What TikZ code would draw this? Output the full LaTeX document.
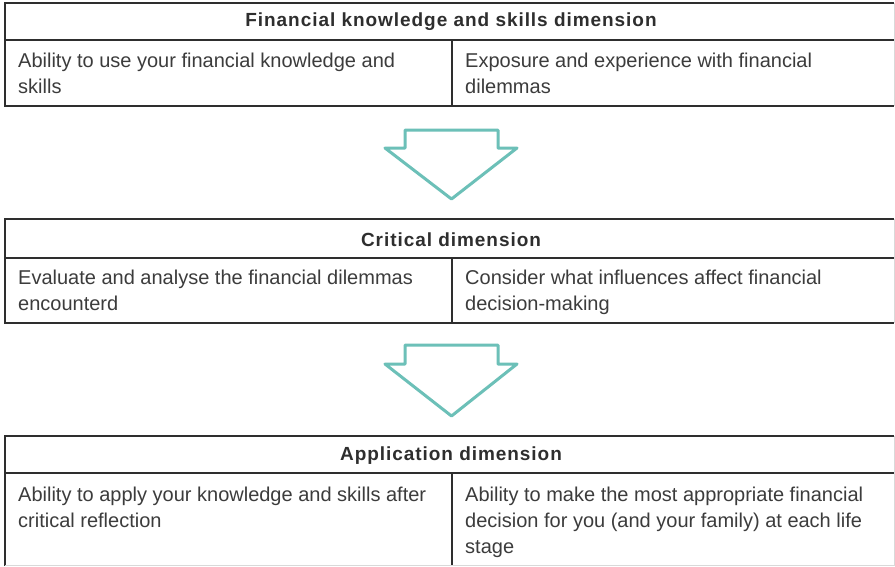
\documentclass[tikz,border=0pt]{standalone}
\usepackage{fontspec}
\setmainfont{Liberation Sans}
\newfontfamily\headfont[LetterSpace=5]{Liberation Sans}
\usepackage{tikz}

\definecolor{rule}{HTML}{2E2E2E}
\definecolor{body}{HTML}{3C3C3C}
\definecolor{teal}{HTML}{6CC0B8}

\begin{document}
\begin{tikzpicture}[x=1pt,y=-1pt,
	head/.style={font=\headfont\fontsize{19}{20}\selectfont\bfseries, text=rule},
	cell/.style={anchor=north west, inner sep=0pt, align=left, font=\fontsize{20}{26}\selectfont, text=body},
	frame/.style={draw=rule, line width=2.4pt},
	shaft/.style={draw=teal, line width=3pt, line join=round}]
	\useasboundingbox[fill=white] (0,0) rectangle (895,566);

	% first table
	\draw[frame] (894,3) -- (5,3) -- (5,106) -- (894,106);
	\draw[frame] (5,40) -- (894,40);
	\draw[frame] (452,40) -- (452,106);
	\draw[black!15, line width=1pt] (894.5,3) -- (894.5,106);
	\node[head] (h1) at (451,22) {Financial knowledge and skills dimension};
	\node[cell] (a1) at (18,53) {Ability to use your financial knowledge and\\skills};
	\node[cell] (b1) at (465,53) {Exposure and experience with financial\\dilemmas};

	\draw[shaft] (405,130) -- (498,130) -- (498,148) -- (517,148) -- (451.5,199) -- (385,148) -- (405,148) -- cycle;

	% second table
	\draw[frame] (894,219) -- (5,219) -- (5,323) -- (894,323);
	\draw[frame] (5,258) -- (894,258);
	\draw[frame] (452,258) -- (452,323);
	\draw[black!15, line width=1pt] (894.5,219) -- (894.5,323);
	\node[head] (h2) at (451,240) {Critical dimension};
	\node[cell] (a2) at (18,270) {Evaluate and analyse the financial dilemmas\\encounterd};
	\node[cell] (b2) at (465,270) {Consider what influences affect financial\\decision-making};

	\draw[shaft] (405,345) -- (498,345) -- (498,364) -- (517,364) -- (451.5,416) -- (385,364) -- (405,364) -- cycle;

	% third table
	\draw[frame] (894,436) -- (5,436) -- (5,566);
	\draw[frame] (5,473) -- (894,473);
	\draw[frame] (452,473) -- (452,566);
	\draw[black!15, line width=1pt] (894.5,436) -- (894.5,566) (5,565.5) -- (894,565.5);
	\node[head] (h3) at (451,456) {Application dimension};
	\node[cell] (a3) at (18,487) {Ability to apply your knowledge and skills after\\critical reflection};
	\node[cell] (b3) at (465,487) {Ability to make the most appropriate financial\\decision for you (and your family) at each life\\stage};
\end{tikzpicture}
\end{document}
